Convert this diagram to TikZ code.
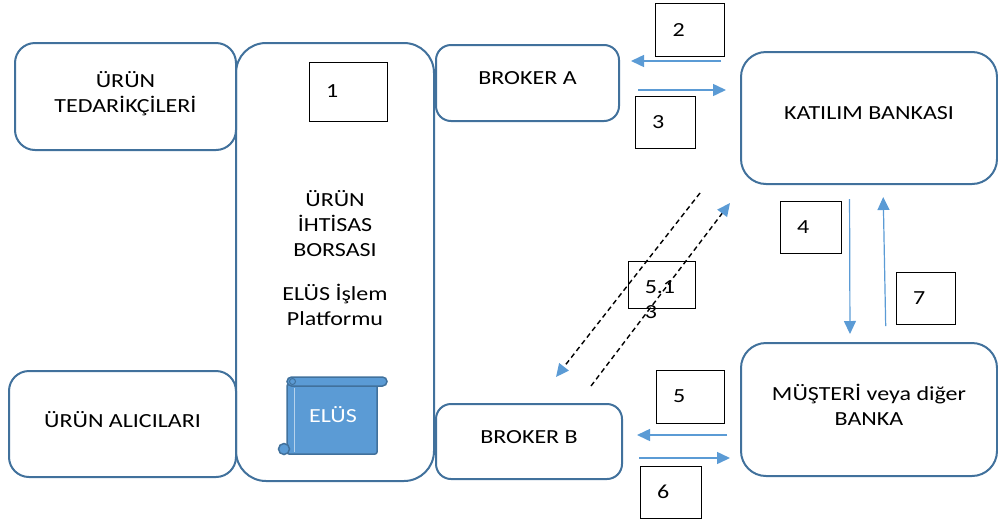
\documentclass[tikz,border=0pt]{standalone}
\usepackage{fontspec}
\setmainfont{Carlito}[FakeStretch=1.2]
\usetikzlibrary{arrows.meta}
\definecolor{boxblue}{RGB}{65,113,156}
\definecolor{flowblue}{RGB}{91,155,213}

\begin{document}
\begin{tikzpicture}
[x=1pt,y=-1pt,%
  every node/.style={inner sep=0pt},%
  party/.style={draw=boxblue,line width=2pt,rounded corners=#1,align=center,text depth=9pt},%
  numbox/.style={draw=black,line width=0.9pt,inner xsep=17pt,align=left},%
  flow/.style={flowblue,line width=1.5pt,-{Triangle[length=13pt,width=12pt]}},%
  lane/.style={black,line width=1.4pt,dash pattern=on 5pt off 3.5pt,%
    -{Triangle[length=13pt,width=12pt,color=flowblue]}},%
  scroll/.style={fill=flowblue,draw=boxblue,line width=1.5pt}]
\fontsize{20}{25}\selectfont
\useasboundingbox (0,0) rectangle (998,520);
\node[party=20pt,minimum width=221pt,minimum height=107pt] (tedarik) at (125.5,96.5) {ÜRÜN\\TEDARİKÇİLERİ};
\node[party=20pt,minimum width=227pt,minimum height=106pt] (alici) at (122.5,424) {ÜRÜN ALICILARI};
\node[party=30pt,minimum width=198pt,minimum height=438pt] (borsa) at (335,262) {};
\node[align=center] (borsaad) at ([yshift=38pt]borsa.center) {ÜRÜN\\İHTİSAS\\BORSASI};
\node[align=center] (platform) at ([yshift=-43pt]borsa.center) {ELÜS İşlem\\Platformu};
\node[party=15pt,minimum width=183pt,minimum height=76pt] (brokerA) at (527.5,83) {BROKER A};
\node[party=15pt,minimum width=186pt,minimum height=75pt] (brokerB) at (529,441.5) {BROKER B};
\node[party=25pt,minimum width=256pt,minimum height=132pt] (katilim) at (869,118) {KATILIM BANKASI};
\node[party=25pt,minimum width=256pt,minimum height=133pt] (musteri) at (869,409.5) {MÜŞTERİ veya diğer\\BANKA};

\node[numbox,text width=44pt,minimum height=59pt] (n1) at (348,91.5) {1};
\node[numbox,text width=35pt,minimum height=53pt] (n2) at (690,30) {2};
\node[numbox,text width=26pt,minimum height=52pt] (n3) at (665,122) {3};
\node[numbox,text width=27pt,minimum height=52pt] (n4) at (810.5,227) {4};
\node[numbox,text width=34pt,minimum height=53pt] (n5) at (690,396.5) {5};
\node[numbox,text width=27pt,minimum height=52pt] (n6) at (670.5,492) {6};
\node[numbox,text width=25pt,minimum height=52pt] (n7) at (925.5,298) {7};
\node[numbox,text width=33pt,minimum height=47pt] (n51) at (661.5,284.5) {};
\node[align=left,anchor=north west] (n51txt) at ([xshift=17pt,yshift=-20pt]n51.north west) {5.1\\3};

\draw[flow,shorten <=19pt,shorten >=11pt] ([yshift=57pt]katilim.west) -- ([yshift=22pt]brokerA.east);
\draw[flow,shorten <=18pt,shorten >=14pt] ([yshift=-7pt]brokerA.east) -- ([yshift=28pt]katilim.west);
\draw[flow,shorten <=13pt,shorten >=14pt] ([yshift=-25.5pt]musteri.west) -- ([yshift=6.5pt]brokerB.east);
\draw[flow,shorten <=16pt,shorten >=10pt] ([yshift=-16.5pt]brokerB.east) -- ([yshift=-48.5pt]musteri.west);
\draw[flow,line width=1.2pt,shorten <=14pt,shorten >=8pt] ([xshift=-19.5pt]katilim.south) -- ([xshift=-19pt]musteri.north);
\draw[flow,line width=1.2pt,shorten <=16pt,shorten >=12pt] ([xshift=17pt]musteri.north) -- ([xshift=14pt]katilim.south);

\coordinate (l1a) at (700,193);
\coordinate (l1b) at (556,377);
\coordinate (l2a) at (591,386);
\coordinate (l2b) at (730,203);
\draw[lane] (l1a) -- (l1b);
\draw[lane] (l2a) -- (l2b);

\filldraw[scroll,rounded corners=2pt] (287,384) rectangle (377,454);
\filldraw[scroll] (284,449) circle (5.5pt);
\filldraw[scroll,rounded corners=4.5pt] (287,377) rectangle (387,386);
\draw[boxblue,line width=1pt] (292.5,381.5) circle (3pt);
\draw[white!55!flowblue,line width=1pt] (294,388) -- (294,452);
\node[white] (elus) at (333,415) {ELÜS};
\end{tikzpicture}
\end{document}
